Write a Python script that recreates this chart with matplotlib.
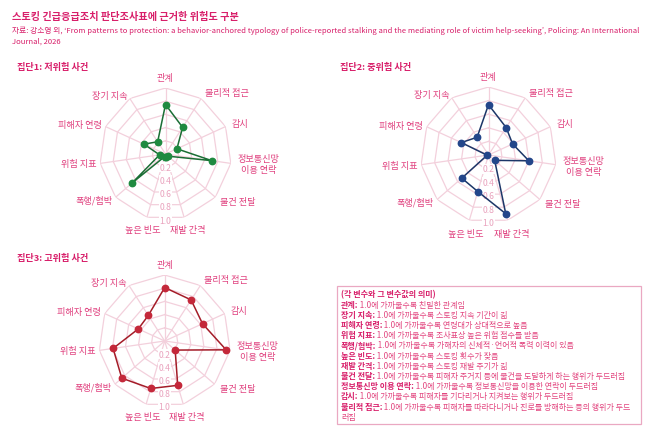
import matplotlib
matplotlib.use("Agg")
import matplotlib.pyplot as plt
from matplotlib.text import Annotation
from matplotlib.patches import Rectangle
import numpy as np

plt.rcParams['font.family'] = ['Noto Sans CJK KR', 'DejaVu Sans']

# 11 axes, clockwise from the top
variables = ["관계", "물리적 접근", "감시", "정보통신망\n이용 연락", "물건 전달", "재발 간격",
             "높은 빈도", "폭행/협박", "위험 지표", "피해자 연령", "장기 지속"]
low_risk = [0.75, 0.48, 0.19, 0.71, 0.05, 0.05, 0.04, 0.67, 0.09, 0.36, 0.22]
mid_risk = [0.74, 0.48, 0.39, 0.60, 0.12, 0.90, 0.56, 0.52, 0.02, 0.44, 0.31]
high_risk = [0.81, 0.74, 0.63, 0.94, 0.21, 0.70, 0.75, 0.86, 0.79, 0.44, 0.46]
ring_ticks = [0.2, 0.4, 0.6, 0.8, 1.0]

group_titles = ["집단1: 저위험 사건", "집단2: 중위험 사건", "집단3: 고위험 사건"]

title = "스토킹 긴급응급조치 판단조사표에 근거한 위험도 구분"
source_1 = ("자료: 강소영 외, ‘From patterns to protection: a behavior-anchored typology of "
            "police-reported stalking and the mediating role of victim help-seeking’, "
            "Policing: An International")
source_2 = "Journal, 2026"

legend_head = "(각 변수와 그 변수값의 의미)"
legend_keys = ["관계:", "장기 지속:", "피해자 연령:", "위험 지표:", "폭행/협박:", "높은 빈도:",
               "재발 간격:", "물건 전달:", "정보통신망 이용 연락:", "감시:", "물리적 접근:", ""]
legend_desc = [
    " 1.0에 가까울수록 친밀한 관계임",
    " 1.0에 가까울수록 스토킹 지속 기간이 긺",
    " 1.0에 가까울수록 연령대가 상대적으로 높음",
    " 1.0에 가까울수록 조사표상 높은 위험 점수를 받음",
    " 1.0에 가까울수록 가해자의 신체적·언어적 폭력 이력이 있음",
    " 1.0에 가까울수록 스토킹 횟수가 잦음",
    " 1.0에 가까울수록 스토킹 재발 주기가 긺",
    " 1.0에 가까울수록 피해자 주거지 등에 물건을 도달하게 하는 행위가 두드러짐",
    " 1.0에 가까울수록 정보통신망을 이용한 연락이 두드러짐",
    " 1.0에 가까울수록 피해자를 기다리거나 지켜보는 행위가 두드러짐",
    " 1.0에 가까울수록 피해자를 따라다니거나 진로를 방해하는 등의 행위가 두드",
    "러짐",
]

PINK = "#d81f6a"
LABEL_PINK = "#e0407e"
GRID = "#f3d0dc"
TICK = "#e9a2bd"

W, H = 658, 439
fig = plt.figure(figsize=(W / 100, H / 100), dpi=100)
fig.patch.set_facecolor("white")


def fx(x):
    return x / W


def fy(y):
    return 1 - y / H


def draw_radar(cx, cy, R, values, line_color, dot_color):
    ax = fig.add_axes([fx(cx - R), fy(cy + R), 2 * R / W, 2 * R / H], projection="polar")
    ax.set_theta_zero_location("N")
    ax.set_theta_direction(-1)
    ax.set_ylim(0, 1)
    ax.grid(False)
    ax.spines["polar"].set_visible(False)
    ax.set_xticks([])
    ax.set_yticks([])
    ax.patch.set_alpha(0)

    n = len(variables)
    angles = np.linspace(0, 2 * np.pi, n, endpoint=False)
    closed = np.append(angles, angles[0])

    for r in ring_ticks:
        ax.plot(closed, [r] * (n + 1), color=GRID, lw=0.9, zorder=1)
    for a in angles:
        ax.plot([a, a], [0, 1], color=GRID, lw=0.9, zorder=1)

    for r in ring_ticks:
        ax.text(np.pi, r, f"{r:.1f}", ha="center", va="center", fontsize=6.2, color=TICK,
                zorder=2, bbox=dict(boxstyle="square,pad=0.05", fc="white", ec="none"))

    vals = np.append(values, values[0])
    ax.plot(closed, vals, color=line_color, lw=1.1, zorder=3)
    ax.plot(angles, values, "o", color=dot_color, ms=4.6, zorder=4, clip_on=False)

    for a, lab in zip(angles, variables):
        s = np.sin(a)
        if abs(s) < 0.3:
            ha = "center"
            rr = 1.16 if np.cos(a) > 0 else 1.2
        elif s > 0:
            ha = "left"
            rr = 1.1
        else:
            ha = "right"
            rr = 1.06
        ax.text(a, rr, lab, ha=ha, va="center", fontsize=6.6, color=LABEL_PINK,
                linespacing=1.25, multialignment="center")
    return ax


draw_radar(165.5, 155, 66, low_risk, "#1b6e35", "#1f8a40")
draw_radar(488.5, 156, 68, mid_risk, "#1c3668", "#23468a")
draw_radar(164.7, 342, 66, high_risk, "#a41c28", "#c4283a")

fig.text(fx(12), fy(17), title, fontsize=7.3, fontweight="bold", color=PINK, va="center", ha="left")
fig.text(fx(12), fy(31), source_1, fontsize=5.55, color=PINK, va="center", ha="left")
fig.text(fx(12), fy(42), source_2, fontsize=5.55, color=PINK, va="center", ha="left")

fig.text(fx(17), fy(67), group_titles[0], fontsize=6.6, fontweight="bold", color=PINK, va="center")
fig.text(fx(340), fy(67), group_titles[1], fontsize=6.6, fontweight="bold", color=PINK, va="center")
fig.text(fx(17), fy(258), group_titles[2], fontsize=6.6, fontweight="bold", color=PINK, va="center")

# legend box
fig.patches.append(Rectangle((fx(337), fy(425)), fx(641) - fx(337), fy(287) - fy(425),
                             transform=fig.transFigure, fill=False, ec="#eaa8c2", lw=0.9))
x0, y0, dy = 341, 295, 10.2
fs = 5.8
fig.text(fx(x0), fy(y0), legend_head, fontsize=fs, fontweight="bold", color=PINK, va="center")
for i, (k, d) in enumerate(zip(legend_keys, legend_desc)):
    y = y0 + (i + 1) * dy
    t = fig.text(fx(x0), fy(y), k, fontsize=fs, fontweight="bold", color=PINK, va="center")
    fig.add_artist(Annotation(d, xy=(1, 0.5), xycoords=t, va="center", ha="left",
                              fontsize=fs, color="#e2457f"))

fig.savefig("out.png", dpi=100)
